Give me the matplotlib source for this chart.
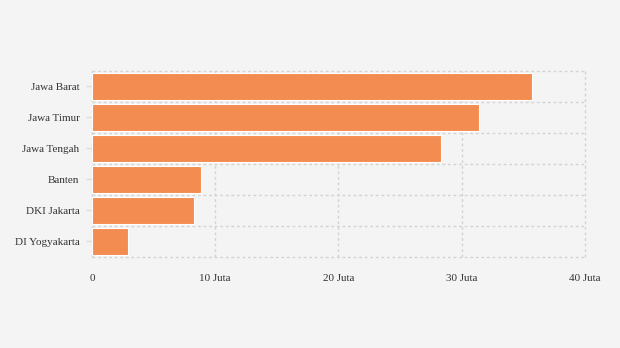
import matplotlib.pyplot as plt
import numpy as np

provinces = ["Jawa Barat", "Jawa Timur", "Jawa Tengah", "Banten", "DKI Jakarta", "DI Yogyakarta"]
values = [35.7, 31.4, 28.3, 8.85, 8.3, 2.95]  # juta
x_ticks = [0, 10, 20, 30, 40]
x_labels = ["0", "10 Juta", "20 Juta", "30 Juta", "40 Juta"]

plt.rcParams["font.family"] = ["Liberation Serif", "DejaVu Serif"]

fig = plt.figure(figsize=(6.2, 3.48), dpi=100, facecolor="#f4f4f4")
ax = fig.add_axes([0.1484, 0.2615, 0.7951, 0.5345])
ax.set_facecolor("#f4f4f4")

y = np.arange(len(provinces))
ax.barh(y, values, height=0.84, color="#f28c50", edgecolor="white", linewidth=0.8, zorder=3)

ax.set_xlim(0, 40)
ax.set_ylim(len(provinces) - 0.5, -0.5)
ax.set_xticks(x_ticks)
ax.set_xticklabels(x_labels, fontsize=8, color="#333333")
ax.set_yticks(y)
ax.set_yticklabels(provinces, fontsize=8, color="#333333")

ax.tick_params(axis="x", length=0, pad=12)
ax.tick_params(axis="y", length=4, color="#dddddd", width=1, pad=5)

# dashed grid, incl. the outer frame
grid_style = dict(color="#d3d3d3", linestyle=(0, (2, 2)), linewidth=1, zorder=0, clip_on=False)
for xt in x_ticks:
    ax.axvline(xt, **grid_style)
for yb in np.arange(len(provinces) + 1) - 0.5:
    ax.axhline(yb, **grid_style)
for s in ax.spines.values():
    s.set_visible(False)

fig.savefig("out.png", dpi=100, facecolor=fig.get_facecolor())
